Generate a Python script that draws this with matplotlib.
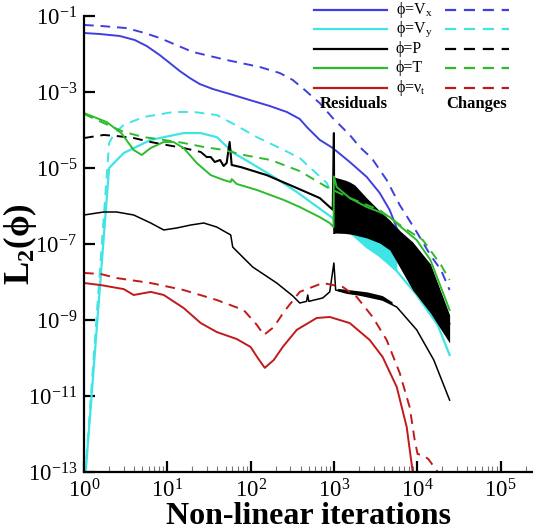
import math
import matplotlib
matplotlib.use("Agg")
import matplotlib.pyplot as plt
from matplotlib.lines import Line2D
from matplotlib.ticker import FixedLocator, LogLocator, NullLocator, NullFormatter, FuncFormatter

plt.rcParams['font.family'] = ['Liberation Serif', 'DejaVu Serif']
plt.rcParams['mathtext.fontset'] = 'custom'
plt.rcParams['mathtext.rm'] = 'Liberation Serif'
plt.rcParams['mathtext.it'] = 'Liberation Serif:italic'
plt.rcParams['mathtext.bf'] = 'Liberation Serif:bold'
plt.rcParams['axes.unicode_minus'] = False

# ---- data (iteration, L2 norm) ----
vx_res_it = [1, 1.54, 2.68, 4.06, 5.66, 8.1, 10.7, 14.1, 18.6, 24.5, 35.1, 56.1, 89.8, 170, 272,
             389, 485, 676, 968, 1550, 2480, 3550, 4680, 5680, 8590, 13200, 24500]
vx_res = [3.57e-2, 3.36e-2, 2.98e-2, 2.34e-2, 1.62e-2, 9.4e-3, 5.8e-3, 3.57e-3, 2.34e-3, 1.62e-3, 1.2e-3,
          8.9e-4, 6.5e-4, 4.28e-4, 2.98e-4, 1.95e-4, 1.13e-4, 5.5e-5, 3.36e-5, 1.44e-5, 5.8e-6, 2.2e-6,
          7.8e-7, 2.64e-7, 6.95e-8, 1.5e-8, 8e-10]
vx_chg_it = [1, 1.54, 3.26, 5.35, 8.1, 20.2, 51.6, 129, 224, 321, 447, 676, 968, 1550, 2040, 2840,
             4300, 6170, 9860, 14400, 19300, 24500]
vx_chg = [5.8e-2, 5.5e-2, 4.8e-2, 3.57e-2, 2.64e-2, 1.13e-2, 6.95e-3, 4.55e-3, 3.16e-3, 2.07e-3, 1.13e-3,
          5.1e-4, 2.07e-4, 7.4e-5, 3.57e-5, 1.83e-5, 4.83e-6, 1.06e-6, 2.07e-7, 5.1e-8, 2.07e-8, 6.15e-9]

vy_res_it = [1, 2, 3, 6.32, 15.7, 25.2, 39.2, 62.6, 100, 175, 358, 589, 968, 1000, 1550, 2480, 3550,
             4300, 5680, 9860, 17600, 24500]
vy_res = [2.6e-14, 1.0e-5, 2.48e-5, 5.5e-5, 8.3e-5, 8.3e-5, 6.5e-5, 2.48e-5, 1.36e-5, 6.5e-6, 2.34e-6,
          1.06e-6, 4.83e-7, 3.8e-7, 2.07e-7, 8.3e-8, 4.83e-8, 3.36e-8, 1.95e-8, 4.55e-9, 7.4e-10, 1.2e-10]
vy_noise_it = [1000, 1550, 2480, 3550, 4300, 5680]
vy_noise_lo = [3.8e-7, 2.07e-7, 8.3e-8, 4.83e-8, 3.36e-8, 1.95e-8]
vy_noise_hi = [3.8e-7, 2.64e-7, 2.07e-7, 1.44e-7, 1.0e-7, 3.36e-8]
vy_chg_it = [1, 2, 2.3, 3.0, 5.21, 11.9, 20.7, 39.2, 62.6, 119, 250, 389, 820, 1170, 2690, 6170,
             14400, 24500]
vy_chg = [3e-14, 4.5e-5, 8e-5, 1.36e-4, 2.2e-4, 2.98e-4, 2.98e-4, 2.48e-4, 1.44e-4, 6.5e-5, 2.98e-5,
          1.83e-5, 4.03e-6, 7.8e-7, 3.16e-7, 6.95e-8, 6.15e-9, 5.5e-10]

p_res_it = [1, 1.72, 2.47, 3.95, 6.32, 9.06, 13, 19.1, 27.4, 39.2, 57.7, 61, 106, 206, 321, 389, 470,
            485, 500, 735, 891, 1000, 1050, 1430, 2040, 3850, 5680, 9860, 15800, 24500]
p_res = [5.8e-7, 6.95e-7, 6.95e-7, 5.8e-7, 3.57e-7, 2.34e-7, 2.64e-7, 3.16e-7, 3.57e-7, 2.8e-7, 1.73e-7,
         8.3e-8, 2.48e-8, 9.4e-9, 4.3e-9, 2.8e-9, 3.1e-9, 4.55e-9, 3.1e-9, 3.8e-9, 5.5e-9, 3.16e-8,
         6.15e-9, 5.1e-9, 4.55e-9, 3.36e-9, 2.2e-9, 5.5e-10, 8.9e-11, 7.8e-12]
p_noise_it = [1100, 1600, 2500, 3800, 5000]
p_noise_lo = [6.0e-9, 5.0e-9, 4.3e-9, 3.4e-9, 2.6e-9]
p_noise_hi = [6.8e-9, 6.2e-9, 5.5e-9, 4.4e-9, 3.0e-9]
p_chg_it = [1, 1.72, 2.47, 3.95, 6.32, 9.8, 15.7, 25.2, 29.7]
p_chg = [6.15e-5, 7.4e-5, 6.95e-5, 6.15e-5, 4.83e-5, 4.03e-5, 3.36e-5, 2.64e-5, 1.95e-5]
p_chg_noisy_it = [29.7, 33.2, 37.1, 43, 47.5, 51.6, 56, 59.3, 76, 156, 358, 676, 891, 968, 1000, 1010]
p_chg_noisy = [1.95e-5, 1.95e-5, 1.44e-5, 1.62e-5, 1.13e-5, 1.36e-5, 4.83e-5, 1.2e-5, 1.06e-5, 6.5e-6,
               2.98e-6, 1.62e-6, 9.4e-7, 8e-7, 8.3e-5, 1.95e-7]
band_it = [1000, 1350, 1550, 1780, 2480, 3550, 4680, 5680, 8830, 14400, 24500]
band_hi = [5.8e-6, 4.83e-6, 4.28e-6, 3.57e-6, 1.62e-6, 7.4e-7, 4.28e-7, 2.64e-7, 1.13e-7, 2.98e-8, 1.36e-9]
band_lo = [1.95e-7, 1.9e-7, 1.83e-7, 1.73e-7, 1.44e-7, 1.06e-7, 6.95e-8, 3.36e-8, 6.15e-9, 1.53e-9, 2.48e-10]

t_res_it = [1, 1.87, 2.8, 3.95, 4.93, 6.32, 9.06, 11.9, 15.7, 22.5, 33.2, 47.5, 57.7, 59.3, 68.1, 119,
            250, 389, 676, 891, 990, 1000, 1080, 1550, 2480, 3550, 4680, 6170, 9860, 14400, 24500]
t_res = [2.8e-4, 1.62e-4, 8.3e-5, 2.98e-5, 2.2e-5, 3.36e-5, 4.83e-5, 4.83e-5, 3.36e-5, 1.36e-5, 6.5e-6,
         4.83e-6, 4.28e-6, 5.1e-6, 3.8e-6, 2.64e-6, 1.44e-6, 9.4e-7, 5.1e-7, 3.57e-7, 2.8e-7, 6e-6,
         3.16e-6, 1.62e-6, 9.4e-7, 6.95e-7, 5.1e-7, 2.98e-7, 1.27e-7, 3.8e-8, 1.83e-9]
t_chg_it = [1, 1.72, 3.0, 5.21, 9.06, 15.7, 27.4, 47.5, 82.6, 175, 389, 820, 1550, 3550, 6700, 11700,
            19300, 24500]
t_chg = [2.64e-4, 1.53e-4, 8.9e-5, 6.5e-5, 5.5e-5, 4.55e-5, 3.57e-5, 2.98e-5, 2.2e-5, 1.62e-5, 8.3e-6,
         3.16e-6, 1.62e-6, 7.8e-7, 2.8e-7, 1.27e-7, 2.8e-8, 1.13e-8]

nu_res_it = [1, 1.59, 3.0, 3.95, 6.32, 9.06, 15.7, 25.2, 39.2, 68.1, 100, 122, 148, 190, 243, 358, 622,
             891, 1550, 2690, 3850, 5680, 7480, 8830, 9080]
nu_res = [9.4e-9, 8.3e-9, 6.5e-9, 4.55e-9, 5.5e-9, 4.55e-9, 2.07e-9, 8.3e-10, 4.83e-10, 3.16e-10,
          1.95e-10, 1.0e-10, 5.5e-11, 8.9e-11, 1.95e-10, 5.5e-10, 1.13e-9, 1.2e-9, 8.3e-10, 2.98e-10,
          1.06e-10, 1.73e-11, 1.53e-12, 1.0e-13, 3.4e-14]
nu_chg_it = [1, 1.59, 2.47, 6.32, 15.7, 39.2, 82.6, 119, 144, 190, 250, 389, 735, 1280, 1880, 2920,
             4300, 6170, 8120, 9330, 10100, 11400, 13600, 17600, 19300]
nu_chg = [1.73e-8, 1.62e-8, 1.27e-8, 9.4e-9, 6.15e-9, 3.36e-9, 1.83e-9, 7.4e-10, 4.03e-10, 6.5e-10,
          1.62e-9, 5.5e-9, 9.4e-9, 7.4e-9, 4.03e-9, 1.2e-9, 2.98e-10, 4.03e-11, 5.1e-12, 6.95e-13,
          2.98e-13, 2.8e-13, 2.2e-13, 1.0e-13, 6e-14]

y_ticks = [1e-1, 1e-3, 1e-5, 1e-7, 1e-9, 1e-11, 1e-13]
x_ticks = [1, 1e1, 1e2, 1e3, 1e4, 1e5]
legend_labels = ['ϕ=V$_\\mathregular{x}$', 'ϕ=V$_\\mathregular{y}$', 'ϕ=P', 'ϕ=T', 'ϕ=ν$_\\mathregular{t}$']

BLUE = '#3f3fdf'
CYAN = '#3fe4e4'
BLACK = 'black'
GREEN = '#2dbb2d'
RED = '#c01a1a'
DASH = (0, (5, 3.5))

W, H = 533, 531
fig = plt.figure(figsize=(W / 100, H / 100), dpi=100)
ax = fig.add_axes([84 / W, 59 / H, 449 / W, 456 / H])
ax.set_xscale('log')
ax.set_yscale('log')

# series that disappear under the oscillating black band (zorder below it)
ax.plot(vx_res_it, vx_res, color=BLUE, lw=1.4, zorder=2)
ax.plot(vy_chg_it, vy_chg, color=CYAN, lw=1.4, ls=DASH, zorder=2)
ax.fill_between(vy_noise_it, vy_noise_lo, vy_noise_hi, color=CYAN, lw=0, zorder=2.1)
ax.plot(vy_res_it, vy_res, color=CYAN, lw=1.6, zorder=2.1)
ax.fill_between(band_it, band_lo, band_hi, color=BLACK, lw=0, zorder=2.5)

# series drawn over it
ax.plot(vx_chg_it, vx_chg, color=BLUE, lw=1.4, ls=DASH, zorder=3)
ax.plot(p_res_it, p_res, color=BLACK, lw=1.1, zorder=3)
ax.fill_between(p_noise_it, p_noise_lo, p_noise_hi, color=BLACK, lw=0, zorder=3)
ax.plot(p_chg_it, p_chg, color=BLACK, lw=1.4, ls=DASH, zorder=3)
ax.plot(p_chg_noisy_it, p_chg_noisy, color=BLACK, lw=1.5, zorder=3)
ax.plot(t_res_it, t_res, color=GREEN, lw=1.4, zorder=3)
ax.plot(t_chg_it, t_chg, color=GREEN, lw=1.4, ls=DASH, zorder=3)
ax.plot(nu_res_it, nu_res, color=RED, lw=1.4, zorder=3)
ax.plot(nu_chg_it, nu_chg, color=RED, lw=1.4, ls=DASH, zorder=3)

ax.set_xlim(1, 10 ** (449 / 83.3))
ax.set_ylim(1e-13, 1e-1)

for side in ['top', 'right']:
    ax.spines[side].set_visible(False)
for side in ['left', 'bottom']:
    ax.spines[side].set_linewidth(1.6)
    ax.spines[side].set_zorder(4)

ax.yaxis.set_major_locator(FixedLocator(y_ticks))
ax.yaxis.set_minor_locator(NullLocator())
ax.xaxis.set_major_locator(FixedLocator(x_ticks))
ax.xaxis.set_minor_locator(LogLocator(base=10, subs=range(2, 10), numticks=20))
ax.xaxis.set_minor_formatter(NullFormatter())
fmt = FuncFormatter(lambda v, p: r'$\mathregular{10^{%d}}$' % round(math.log10(v)))
ax.xaxis.set_major_formatter(fmt)
ax.yaxis.set_major_formatter(fmt)
ax.tick_params(which='major', direction='in', length=8, width=1.6, labelsize=16.5, pad=5)
ax.tick_params(which='minor', direction='in', length=4, width=0.8, color='#777777')

ax.set_xlabel('Non-linear iterations', fontsize=23, fontweight='bold', labelpad=0)
ax.set_ylabel('L$_\\mathbf{2}$(ϕ)', fontsize=25, fontweight='bold')
ax.yaxis.set_label_coords(-0.1, 0.5)

# hand-made legend: solid = residuals, dashed = changes
colors = [BLUE, CYAN, BLACK, GREEN, RED]
rows = [10, 29, 49, 68, 88]
for c, r, lab in zip(colors, rows, legend_labels):
    yy = 1 - r / H
    fig.add_artist(Line2D([314 / W, 387 / W], [yy, yy], color=c, lw=1.6))
    fig.add_artist(Line2D([445 / W, 509 / W], [yy, yy], color=c, lw=1.6, ls=DASH))
    fig.text(396 / W, yy, lab, fontsize=11.5, va='center', ha='left')
fig.text(354 / W, 1 - 104 / H, 'Residuals', fontsize=12, fontweight='bold', ha='center', va='center')
fig.text(477 / W, 1 - 104 / H, 'Changes', fontsize=12, fontweight='bold', ha='center', va='center')

fig.savefig('out.png', dpi=100)
